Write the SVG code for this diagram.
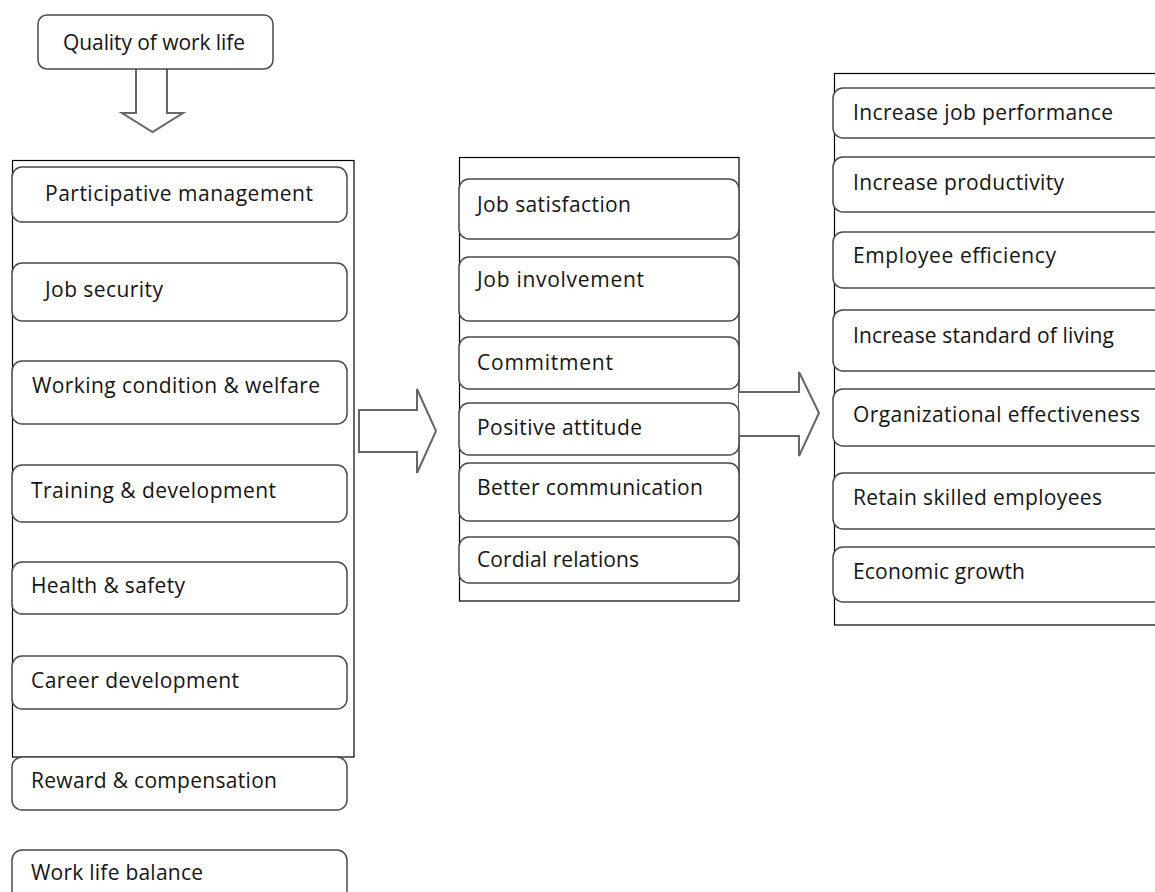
<svg xmlns="http://www.w3.org/2000/svg" width="1155" height="892" viewBox="0 0 1155 892">
<style>
.frame{fill:#fff;stroke:#000;stroke-width:1.2}
.box{fill:#fff;stroke:#4a4a4a;stroke-width:1.5}
.lbl{font-family:"Open Sans","Liberation Sans",sans-serif;font-size:21px;fill:#141414}
.arrow{fill:#fff;stroke:#666;stroke-width:2;stroke-linejoin:miter}
</style>
<rect width="1155" height="892" fill="#fff"/>
<g id="frames">
<rect id="frame-left" class="frame" x="12.5" y="160.5" width="341.5" height="596.5"/>
<rect id="frame-mid" class="frame" x="459.5" y="157.5" width="279.5" height="443.5"/>
<rect id="frame-right" class="frame" x="834.5" y="73.5" width="340" height="551.5"/>
</g>
<g id="connectors">
<path class="arrow" d="M136,68 V113 H122 L152.5,132 L183,113 H167 V68"/>
<path class="arrow" d="M359,410 H417 V389 L436,431 L417,473 V452 H359 Z"/>
<path class="arrow" d="M739,392 H799 V372 L819,413 L799,456 V436 H739"/>
</g>
<g id="title">
<rect class="box" x="38" y="15" width="235" height="54" rx="9"/>
<text class="lbl" x="63" y="50" textLength="182" lengthAdjust="spacing">Quality of work life</text>
</g>
<g id="n-participative">
<rect class="box" x="12" y="167" width="335" height="55" rx="10"/>
<text class="lbl" x="45" y="201" textLength="268" lengthAdjust="spacing">Participative management</text>
</g>
<g id="n-jobsecurity">
<rect class="box" x="12" y="263" width="335" height="58" rx="10"/>
<text class="lbl" x="45" y="297" textLength="118" lengthAdjust="spacing">Job security</text>
</g>
<g id="n-working">
<rect class="box" x="12" y="361" width="335" height="63" rx="10"/>
<text class="lbl" x="32" y="393" textLength="288" lengthAdjust="spacing">Working condition &amp; welfare</text>
</g>
<g id="n-training">
<rect class="box" x="12" y="465" width="335" height="57" rx="10"/>
<text class="lbl" x="31" y="498" textLength="245" lengthAdjust="spacing">Training &amp; development</text>
</g>
<g id="n-health">
<rect class="box" x="12" y="562" width="335" height="52" rx="10"/>
<text class="lbl" x="31" y="593" textLength="154" lengthAdjust="spacing">Health &amp; safety</text>
</g>
<g id="n-career">
<rect class="box" x="12" y="656" width="335" height="53" rx="10"/>
<text class="lbl" x="31" y="688" textLength="208" lengthAdjust="spacing">Career development</text>
</g>
<g id="n-reward">
<rect class="box" x="12" y="757" width="335" height="53" rx="10"/>
<text class="lbl" x="31" y="788" textLength="246" lengthAdjust="spacing">Reward &amp; compensation</text>
</g>
<g id="n-worklife">
<rect class="box" x="12" y="850" width="335" height="60" rx="10"/>
<text class="lbl" x="31" y="880" textLength="172" lengthAdjust="spacing">Work life balance</text>
</g>
<g id="n-jobsat">
<rect class="box" x="459" y="179" width="280" height="60" rx="10"/>
<text class="lbl" x="477" y="212" textLength="154" lengthAdjust="spacing">Job satisfaction</text>
</g>
<g id="n-jobinv">
<rect class="box" x="459" y="257" width="280" height="64" rx="10"/>
<text class="lbl" x="477" y="287" textLength="167" lengthAdjust="spacing">Job involvement</text>
</g>
<g id="n-commit">
<rect class="box" x="459" y="337" width="280" height="52" rx="10"/>
<text class="lbl" x="477" y="370" textLength="136" lengthAdjust="spacing">Commitment</text>
</g>
<g id="n-positive">
<rect class="box" x="459" y="403" width="280" height="52" rx="10"/>
<text class="lbl" x="477" y="435" textLength="165" lengthAdjust="spacing">Positive attitude</text>
</g>
<g id="n-better">
<rect class="box" x="459" y="463" width="280" height="58" rx="10"/>
<text class="lbl" x="477" y="495" textLength="226" lengthAdjust="spacing">Better communication</text>
</g>
<g id="n-cordial">
<rect class="box" x="459" y="537" width="280" height="46" rx="10"/>
<text class="lbl" x="477" y="567" textLength="162" lengthAdjust="spacing">Cordial relations</text>
</g>
<g id="n-perf">
<rect class="box" x="833" y="88" width="340" height="50" rx="10"/>
<text class="lbl" x="853" y="120" textLength="260" lengthAdjust="spacing">Increase job performance</text>
</g>
<g id="n-prod">
<rect class="box" x="833" y="157" width="340" height="55" rx="10"/>
<text class="lbl" x="853" y="190" textLength="211" lengthAdjust="spacing">Increase productivity</text>
</g>
<g id="n-eff">
<rect class="box" x="833" y="232" width="340" height="56" rx="10"/>
<text class="lbl" x="853" y="263" textLength="203" lengthAdjust="spacing">Employee efficiency</text>
</g>
<g id="n-living">
<rect class="box" x="833" y="310" width="340" height="61" rx="10"/>
<text class="lbl" x="853" y="343" textLength="261" lengthAdjust="spacing">Increase standard of living</text>
</g>
<g id="n-org">
<rect class="box" x="833" y="389" width="340" height="57" rx="10"/>
<text class="lbl" x="853" y="422" textLength="287" lengthAdjust="spacing">Organizational effectiveness</text>
</g>
<g id="n-retain">
<rect class="box" x="833" y="473" width="340" height="56" rx="10"/>
<text class="lbl" x="853" y="505" textLength="249" lengthAdjust="spacing">Retain skilled employees</text>
</g>
<g id="n-econ">
<rect class="box" x="833" y="547" width="340" height="55" rx="10"/>
<text class="lbl" x="853" y="579" textLength="172" lengthAdjust="spacing">Economic growth</text>
</g>
</svg>
